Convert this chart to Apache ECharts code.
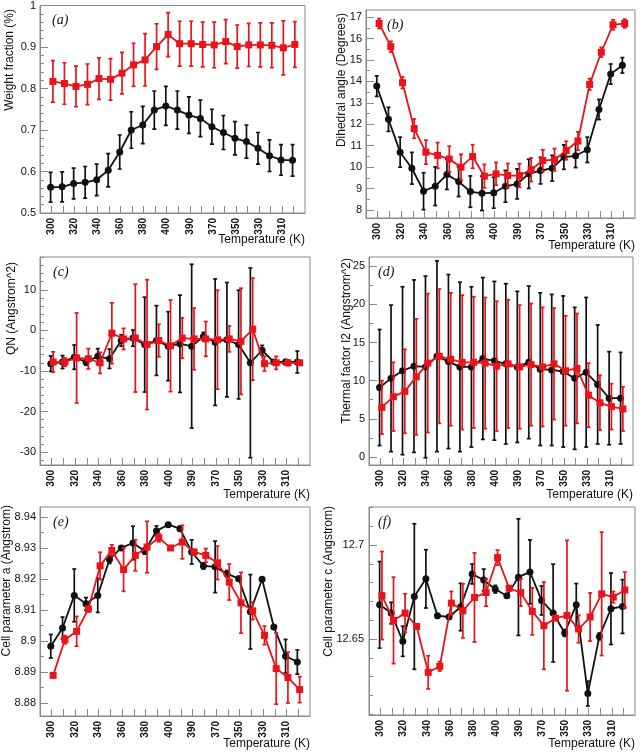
<!DOCTYPE html>
<html>
<head>
<meta charset="utf-8">
<script src="https://cdn.jsdelivr.net/npm/echarts@6/dist/echarts.min.js"></script>
<style>
  html, body { margin: 0; padding: 0; background: #fff; }
  #chart { width: 640px; height: 752px; }
</style>
</head>
<body>
<div id="chart"></div>
<script>
// temperature run: heating 300->400 then cooling 400->300
var temps = [300, 310, 320, 330, 340, 350, 360, 370, 380, 390, 400, 400, 390, 380, 370, 360, 350, 340, 330, 320, 310, 300];

// (a) weight fraction
var weightBlack = [0.562, 0.563, 0.571, 0.574, 0.580, 0.603, 0.647, 0.700, 0.712, 0.748, 0.758, 0.748, 0.736, 0.728, 0.708, 0.694, 0.680, 0.672, 0.656, 0.638, 0.628, 0.627];
var weightBlackErr = [0.036, 0.036, 0.037, 0.038, 0.038, 0.040, 0.041, 0.044, 0.045, 0.046, 0.047, 0.046, 0.044, 0.044, 0.042, 0.041, 0.040, 0.040, 0.038, 0.038, 0.037, 0.038];
var weightRed = [0.817, 0.812, 0.805, 0.810, 0.824, 0.822, 0.837, 0.857, 0.869, 0.901, 0.930, 0.908, 0.908, 0.906, 0.905, 0.913, 0.901, 0.905, 0.905, 0.904, 0.898, 0.906];
var weightRedErr = [0.050, 0.050, 0.049, 0.049, 0.050, 0.050, 0.050, 0.052, 0.063, 0.055, 0.053, 0.054, 0.054, 0.054, 0.055, 0.053, 0.052, 0.052, 0.053, 0.054, 0.065, 0.055];
var weightTicks = [0.5, 0.6, 0.7, 0.8, 0.9, 1];

// (b) dihedral angle
var angleBlack = [13.78, 12.23, 10.70, 9.95, 8.88, 9.11, 9.66, 9.33, 8.86, 8.78, 8.81, 9.11, 9.22, 9.69, 9.84, 9.95, 10.47, 10.53, 10.81, 12.69, 14.34, 14.75];
var angleBlackErr = [0.48, 0.56, 0.70, 0.74, 0.86, 0.90, 0.70, 0.70, 0.73, 0.80, 0.72, 0.74, 0.70, 0.68, 0.62, 0.60, 0.57, 0.55, 0.59, 0.47, 0.47, 0.36];
var angleRed = [16.70, 15.62, 13.94, 11.80, 10.70, 10.55, 10.38, 10.00, 10.50, 9.58, 9.69, 9.61, 9.61, 9.88, 10.31, 10.35, 10.78, 11.22, 13.86, 15.36, 16.64, 16.70];
var angleRedErr = [0.23, 0.25, 0.27, 0.45, 0.56, 0.60, 0.60, 0.60, 0.55, 0.55, 0.53, 0.56, 0.55, 0.55, 0.50, 0.52, 0.43, 0.43, 0.27, 0.23, 0.23, 0.20];
var angleTicks = [8, 9, 10, 11, 12, 13, 14, 15, 16, 17];

// (c) QN
var qnBlack = [-8.2, -7.8, -6.6, -7.8, -6.4, -7.0, -2.5, -1.9, -3.5, -2.5, -3.9, -3.3, -3.9, -1.5, -2.9, -2.3, -3.5, -8.0, -4.9, -7.8, -7.8, -7.8];
var qnBlackErr = [1.9, 1.6, 3.0, 0.8, 1.9, 2.4, 1.4, 2.0, 11.7, 8.6, 8.5, 12.0, 20.2, 1.0, 15.6, 14.1, 13.4, 23.4, 1.2, 0.5, 0.6, 2.7];
var qnRed = [-7.8, -7.8, -6.8, -7.0, -8.0, -0.7, -2.1, -1.9, -3.5, -2.5, -3.8, -1.9, -2.1, -2.1, -2.3, -2.1, -2.7, 0.3, -8.2, -8.0, -8.0, -8.0];
var qnRedErr = [2.5, 1.0, 11.1, 2.5, 2.6, 7.5, 2.6, 13.3, 16.0, 4.0, 11.3, 5.0, 7.6, 4.3, 12.2, 3.2, 13.1, 12.6, 1.8, 1.6, 0.7, 0.5];
var qnTicks = [-30, -20, -10, 0, 10];

// (d) thermal factor I2
var thermalBlack = [9.1, 10.3, 11.3, 11.9, 11.8, 13.2, 12.5, 11.8, 11.8, 12.9, 12.6, 12.2, 11.8, 12.4, 11.5, 11.4, 11.2, 10.3, 11.1, 9.5, 7.7, 7.7];
var thermalBlackErr = [7.6, 9.6, 11.0, 11.3, 11.9, 12.5, 11.4, 11.1, 10.5, 10.6, 10.4, 10.5, 9.9, 10.0, 10.0, 9.9, 9.9, 9.3, 9.8, 7.8, 6.1, 6.0];
var thermalRed = [6.5, 7.9, 8.6, 10.5, 12.3, 13.2, 12.8, 12.4, 12.4, 12.3, 11.9, 12.2, 11.8, 12.1, 11.8, 12.2, 11.3, 11.6, 8.1, 7.1, 6.6, 6.3];
var thermalRedErr = [3.5, 4.5, 5.5, 7.6, 9.1, 8.8, 8.7, 8.8, 8.6, 8.6, 8.5, 8.4, 8.1, 8.0, 7.8, 7.3, 7.2, 7.2, 4.2, 3.6, 3.0, 2.9];
var thermalTicks = [0, 5, 10, 15, 20, 25];

// (e) cell parameter a
var cellABlack = [8.8983, 8.9042, 8.9147, 8.9120, 8.9147, 8.9263, 8.9300, 8.9316, 8.9290, 8.9355, 8.9375, 8.9362, 8.9287, 8.9242, 8.9239, 8.9217, 8.9201, 8.9094, 8.9199, 8.9045, 8.8951, 8.8932];
var cellABlackErr = [0.0038, 0.0035, 0.0085, 0.0020, 0.0055, 0.0013, 0.0005, 0.0054, 0.0010, 0.0016, 0.0005, 0.0008, 0.0039, 0.0010, 0.0083, 0.0010, 0.0007, 0.0120, 0.0005, 0.0005, 0.0054, 0.0039];
var cellARed = [8.8889, 8.9004, 8.9031, 8.9103, 8.9242, 8.9292, 8.9230, 8.9276, 8.9303, 8.9333, 8.9300, 8.9319, 8.9287, 8.9276, 8.9252, 8.9190, 8.9123, 8.9097, 8.9018, 8.8911, 8.8882, 8.8843];
var cellARedErr = [0.0003, 0.0013, 0.0048, 0.0009, 0.0044, 0.0018, 0.0070, 0.0050, 0.0083, 0.0013, 0.0005, 0.0054, 0.0008, 0.0022, 0.0054, 0.0058, 0.0098, 0.0028, 0.0030, 0.0115, 0.0082, 0.0042];
var cellATicks = [8.88, 8.89, 8.9, 8.91, 8.92, 8.93, 8.94];

// (f) cell parameter c
var cellCBlack = [12.6682, 12.6638, 12.6488, 12.6726, 12.6820, 12.6624, 12.6617, 12.6670, 12.6846, 12.6814, 12.6765, 12.6730, 12.6829, 12.6857, 12.6705, 12.6638, 12.6532, 12.6682, 12.6210, 12.6514, 12.6661, 12.6673];
var cellCBlackErr = [0.0230, 0.0057, 0.0080, 0.0387, 0.0155, 0.0010, 0.0005, 0.0126, 0.0053, 0.0058, 0.0020, 0.0005, 0.0310, 0.0170, 0.0077, 0.0260, 0.0018, 0.0113, 0.0066, 0.0018, 0.0190, 0.0143];
var cellCRed = [12.6731, 12.6599, 12.6638, 12.6567, 12.6323, 12.6355, 12.6691, 12.6650, 12.6721, 12.6747, 12.6933, 12.6770, 12.6747, 12.6647, 12.6571, 12.6611, 12.6625, 12.6553, 12.6617, 12.6740, 12.6723, 12.6761];
var cellCRedErr = [0.0234, 0.0230, 0.0102, 0.0005, 0.0088, 0.0025, 0.0062, 0.0144, 0.0237, 0.0072, 0.0040, 0.0005, 0.0072, 0.0125, 0.0232, 0.0010, 0.0400, 0.0073, 0.0128, 0.0328, 0.0030, 0.0095];
var cellCTicks = [12.65, 12.7];

var BLACK = '#111111';
var RED = '#e8141c';
var FRAME = '#8a8a8a';

var panels = [
  { tag: '(a)', title: 'Weight fraction (%)', black: weightBlack, blackErr: weightBlackErr, red: weightRed, redErr: weightRedErr,
    ticks: weightTicks, min: 0.5, max: 1.0, minorStep: 0.02, labelMargin: 4, tagDx: 12,
    grid: { left: 40, top: 5, width: 265, height: 208 }, titlePos: [10, 9], xTitleY: 240 },
  { tag: '(b)', title: 'Dihedral angle (Degrees)', black: angleBlack, blackErr: angleBlackErr, red: angleRed, redErr: angleRedErr,
    ticks: angleTicks, min: 7.63, max: 17.33, minorStep: 0.5, labelMargin: 4, tagDx: 21,
    grid: { left: 366, top: 10, width: 269, height: 208 }, titlePos: [342, 13], xTitleY: 246 },
  { tag: '(c)', title: 'QN (Angstrom^2)', black: qnBlack, blackErr: qnBlackErr, red: qnRed, redErr: qnRedErr,
    ticks: qnTicks, min: -33.2, max: 18.1, minorStep: 2, labelMargin: 4, tagDx: 13,
    grid: { left: 40, top: 257, width: 270, height: 208 }, titlePos: [12, 262], xTitleY: 495 },
  { tag: '(d)', title: 'Thermal factor I2 (Angstrom^2)', black: thermalBlack, blackErr: thermalBlackErr, red: thermalRed, redErr: thermalRedErr,
    ticks: thermalTicks, min: -1.05, max: 26.2, minorStep: 2.5, labelMargin: 4, tagDx: 9,
    grid: { left: 369, top: 257, width: 264, height: 208 }, titlePos: [347, 258], xTitleY: 495 },
  { tag: '(e)', title: 'Cell parameter a (Angstrom)', black: cellABlack, blackErr: cellABlackErr, red: cellARed, redErr: cellARedErr,
    ticks: cellATicks, min: 8.8758, max: 8.9432, minorStep: 0.005, labelMargin: 4, tagDx: 13,
    grid: { left: 40, top: 507, width: 270, height: 209 }, titlePos: [7, 505], xTitleY: 744 },
  { tag: '(f)', title: 'Cell parameter c (Angstrom)', black: cellCBlack, blackErr: cellCBlackErr, red: cellCRed, redErr: cellCRedErr,
    ticks: cellCTicks, min: 12.6096, max: 12.7202, minorStep: 0.01, labelMargin: 5, tagDx: 9,
    grid: { left: 369, top: 507, width: 266, height: 208 }, titlePos: [329, 506], xTitleY: 744 }
];

function minorValues(p) {
  var out = [];
  var start = Math.ceil(p.min / p.minorStep - 1e-6);
  for (var k = start; k * p.minorStep <= p.max + 1e-9; k++) {
    out.push(Math.round(k * p.minorStep * 1e6) / 1e6);
  }
  return out;
}

function pointData(vals, shift) {
  return vals.map(function (v, i) { return [i + shift, v]; });
}

function errData(vals, errs, shift) {
  return vals.map(function (v, i) { return [i + shift, v - errs[i], v + errs[i]]; });
}

function errRender(color) {
  return function (params, api) {
    var x = api.value(0);
    var lo = api.coord([x, api.value(1)]);
    var hi = api.coord([x, api.value(2)]);
    var w = 2;
    var st = { stroke: color, lineWidth: 1.7 };
    return {
      type: 'group',
      children: [
        { type: 'line', shape: { x1: lo[0], y1: lo[1], x2: hi[0], y2: hi[1] }, style: st },
        { type: 'line', shape: { x1: lo[0] - w, y1: lo[1], x2: lo[0] + w, y2: lo[1] }, style: st },
        { type: 'line', shape: { x1: hi[0] - w, y1: hi[1], x2: hi[0] + w, y2: hi[1] }, style: st }
      ]
    };
  };
}

var xTickVals = [];
var xLabelVals = [];
for (var t = 0; t < temps.length; t++) {
  xTickVals.push(t);
  if (t % 2 === 0) xLabelVals.push(t);
}

var option = {
  backgroundColor: '#fff',
  animation: false,
  grid: [], xAxis: [], yAxis: [], series: [], graphic: []
};

panels.forEach(function (p, i) {
  option.grid.push({
    left: p.grid.left, top: p.grid.top, width: p.grid.width, height: p.grid.height,
    show: true, borderColor: FRAME, borderWidth: 1, backgroundColor: 'transparent'
  });
  option.xAxis.push({
    type: 'value', gridIndex: i, min: -1, max: temps.length, position: 'bottom',
    axisLine: { show: true, onZero: false, lineStyle: { color: FRAME } },
    axisTick: { show: true, inside: true, length: 7, customValues: xTickVals, lineStyle: { color: FRAME } },
    axisLabel: {
      customValues: xLabelVals, rotate: 90, margin: 5,
      fontFamily: 'Liberation Sans, Arial, sans-serif', fontSize: 10, fontWeight: 'bold', color: '#111',
      formatter: function (v) { return String(temps[Math.round(v)]); }
    },
    splitLine: { show: false }
  });
  // major ticks with labels
  option.yAxis.push({
    type: 'value', gridIndex: i, position: 'left', min: p.min, max: p.max,
    axisLine: { show: true, onZero: false, lineStyle: { color: FRAME } },
    axisTick: { show: true, inside: true, length: 8, customValues: p.ticks, lineStyle: { color: FRAME } },
    axisLabel: {
      customValues: p.ticks, margin: p.labelMargin,
      fontFamily: 'Liberation Sans, Arial, sans-serif', fontSize: 11, color: '#111'
    },
    splitLine: { show: false }
  });
  // minor ticks
  option.yAxis.push({
    type: 'value', gridIndex: i, position: 'left', min: p.min, max: p.max,
    axisLine: { show: false, onZero: false },
    axisTick: { show: true, inside: true, length: 4, customValues: minorValues(p), lineStyle: { color: FRAME } },
    axisLabel: { show: false },
    splitLine: { show: false }
  });

  var yi = i * 2;
  option.series.push({
    type: 'custom', xAxisIndex: i, yAxisIndex: yi, renderItem: errRender(BLACK),
    data: errData(p.black, p.blackErr, -0.08), encode: { x: 0, y: [1, 2] }, z: 2, clip: true
  });
  option.series.push({
    type: 'line', xAxisIndex: i, yAxisIndex: yi, data: pointData(p.black, -0.08),
    symbol: 'circle', symbolSize: 7, itemStyle: { color: BLACK },
    lineStyle: { color: BLACK, width: 1.8 }, z: 3
  });
  option.series.push({
    type: 'custom', xAxisIndex: i, yAxisIndex: yi, renderItem: errRender(RED),
    data: errData(p.red, p.redErr, 0.12), encode: { x: 0, y: [1, 2] }, z: 4, clip: true
  });
  option.series.push({
    type: 'line', xAxisIndex: i, yAxisIndex: yi, data: pointData(p.red, 0.12),
    symbol: 'rect', symbolSize: 7, itemStyle: { color: RED },
    lineStyle: { color: RED, width: 1.8 }, z: 5
  });

  option.graphic.push({
    type: 'text', x: p.titlePos[0], y: p.titlePos[1], rotation: Math.PI / 2,
    style: { text: p.title, fill: '#111', font: '12px "Liberation Sans", Arial, sans-serif', textAlign: 'right', textVerticalAlign: 'middle' }
  });
  option.graphic.push({
    type: 'text', x: p.grid.left + p.grid.width, y: p.xTitleY,
    style: { text: 'Temperature (K)', fill: '#111', font: '12px "Liberation Sans", Arial, sans-serif', textAlign: 'right', textVerticalAlign: 'middle' }
  });
  option.graphic.push({
    type: 'text', x: p.grid.left + p.tagDx, y: p.grid.top + 15,
    style: { text: p.tag, fill: '#111', font: 'italic 14px "Liberation Serif", "Times New Roman", serif', textAlign: 'left', textVerticalAlign: 'middle' }
  });
});

var myChart = echarts.init(document.getElementById('chart'));
myChart.setOption(option);
</script>
</body>
</html>
